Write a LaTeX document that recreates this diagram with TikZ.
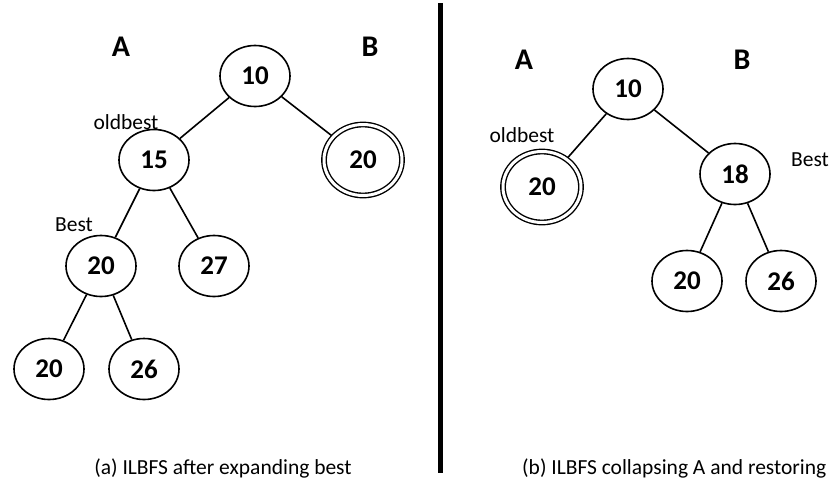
\documentclass[tikz,border=0pt]{standalone}
\usepackage{fontspec}
\setmainfont{Carlito}
\usetikzlibrary{backgrounds,shapes.geometric}

\begin{document}
\begin{tikzpicture}[x=1pt, y=-1pt,
		key/.style={ellipse, draw, line width=1.6pt, minimum width=70pt, minimum height=61pt, inner sep=0pt, font=\fontsize{27}{30}\selectfont\bfseries},
		stored/.style={key, minimum width=78pt, minimum height=71pt, double, double distance=3pt, line width=1.4pt},
		tag/.style={inner sep=0pt, font=\fontsize{21.5}{24}\selectfont},
		side/.style={inner sep=0pt, font=\fontsize{30}{32}\selectfont\bfseries},
		edge/.style={line width=1.6pt}]
			\useasboundingbox (0,0) rectangle (830,480);
			% (a) after expanding best
			\def \r {266}
			\def \q {369}
			\node[side] at (121, 47) (a1) {A};
			\node[side] at (370, 47) (b1) {B};
			\node[key] at (255, 76) (root1) {10};
			\node[key] at (154, 160) (old1) {15};
			\node[stored] at (363, 160) (sub1) {20};
			\node[key] at (101, \r) (best1) {20};
			\node[key] at (214, \r) (n27) {27};
			\node[key] at (49, \q) (l20) {20};
			\node[key] at (144, \q) (l26) {26};
			\node[tag] at (126, 122) (oldtag1) {oldbest};
			\node[tag] at (74, 225) (besttag1) {Best};
			\begin{scope}[on background layer]
				\draw[edge] (root1) -- (old1);
				\draw[edge] (root1) -- (sub1);
				\draw[edge] (old1) -- (best1);
				\draw[edge] (old1) -- (n27);
				\draw[edge] (best1) -- (l20);
				\draw[edge] (best1) -- (l26);
			\end{scope}
			\node[tag] at (223, 468) (cap1) {(a) ILBFS after expanding best};
			% divider
			\coordinate (top) at (440.5, 3);
			\coordinate (bot) at (440.5, 473);
			\draw[line width=4.5pt] (top) -- (bot);
			% (b) collapsing A and restoring
			\node[side] at (524, 60) (a2) {A};
			\node[side] at (742, 60) (b2) {B};
			\node[key] at (628, 89) (root2) {10};
			\node[stored] at (542, 187) (sub2) {20};
			\node[key] at (735, 174) (best2) {18};
			\node[key] at (687, 281) (m20) {20};
			\node[key] at (781, 281) (m26) {26};
			\node[tag] at (522, 135) (oldtag2) {oldbest};
			\node[tag] at (810, 160) (besttag2) {Best};
			\begin{scope}[on background layer]
				\draw[edge] (root2) -- (sub2);
				\draw[edge] (root2) -- (best2);
				\draw[edge] (best2) -- (m20);
				\draw[edge] (best2) -- (m26);
			\end{scope}
			\node[tag, anchor=west] at (522, 468) (cap2) {(b) ILBFS collapsing A and restoring};
		\end{tikzpicture}
\end{document}
